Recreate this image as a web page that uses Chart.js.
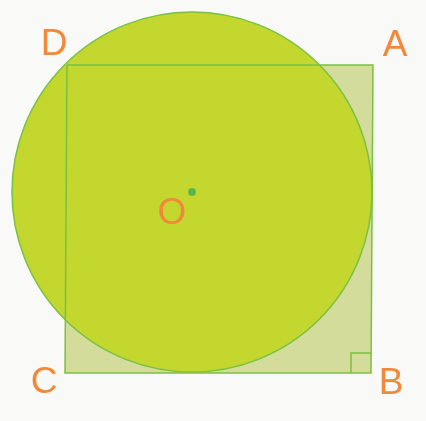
<!DOCTYPE html>
<html>
<head>
<meta charset="utf-8">
<script src="https://cdn.jsdelivr.net/npm/chart.js@4.4.1/dist/chart.umd.min.js"></script>
<style>
  html, body { margin: 0; padding: 0; background: #f9f9f7; }
  #wrap { width: 426px; height: 421px; }
</style>
</head>
<body>
<div id="wrap"><canvas id="myChart" width="426" height="421"></canvas></div>
<script>
// square vertices, in order D, A, B, C
const vertexNames = ["D", "A", "B", "C"];
const vertexX = [67, 373, 371, 65];
const vertexY = [65, 65, 373, 373];
// where each letter sits
const labelX = [54, 395, 391, 44];
const labelY = [45, 46, 384, 383];
// circle O
const centerX = 192;
const centerY = 192;
const radius = 180;
const centerLabel = "O";
const centerLabelX = 172;
const centerLabelY = 214;
const rightAngleSize = 20;

const lineGreen = "#79c143";
const orange = "#f08a3a";

// closed outline D-A-B-C-D
const squarePts = vertexX.map((x, i) => ({x: x, y: vertexY[i]}));
squarePts.push(squarePts[0]);

// little right-angle box at B
const bx = vertexX[2], by = vertexY[2];
const cornerPts = [
  {x: bx - rightAngleSize, y: by},
  {x: bx - rightAngleSize, y: by - rightAngleSize},
  {x: bx, y: by - rightAngleSize}
];

const labelPlugin = {
  id: "labels",
  afterDatasetsDraw(chart) {
    const ctx = chart.ctx;
    const sx = chart.scales.x, sy = chart.scales.y;
    ctx.save();
    ctx.fillStyle = orange;
    ctx.font = "37px 'Liberation Sans', Arial, sans-serif";
    ctx.textAlign = "center";
    ctx.textBaseline = "middle";
    vertexNames.forEach((n, i) => {
      ctx.fillText(n, sx.getPixelForValue(labelX[i]), sy.getPixelForValue(labelY[i]));
    });
    ctx.fillText(centerLabel, sx.getPixelForValue(centerLabelX), sy.getPixelForValue(centerLabelY));
    ctx.restore();
  }
};

new Chart("myChart", {
  type: "scatter",
  data: {
    datasets: [
      { // centre dot
        data: [{x: centerX, y: centerY}],
        pointRadius: 4,
        pointBackgroundColor: "#5db84a",
        pointBorderWidth: 0,
        order: 0
      },
      { // right angle mark
        data: cornerPts,
        showLine: true,
        borderColor: lineGreen,
        borderWidth: 1.5,
        pointRadius: 0,
        fill: false,
        order: 1
      },
      { // square outline
        data: squarePts,
        showLine: true,
        borderColor: lineGreen,
        borderWidth: 1.5,
        pointRadius: 0,
        fill: false,
        order: 2
      },
      { // circle
        data: [{x: centerX, y: centerY}],
        pointRadius: c => c.chart.scales.x.getPixelForValue(centerX + radius) - c.chart.scales.x.getPixelForValue(centerX),
        pointHoverRadius: c => c.chart.scales.x.getPixelForValue(centerX + radius) - c.chart.scales.x.getPixelForValue(centerX),
        pointBackgroundColor: "#c3d72e",
        pointBorderColor: lineGreen,
        pointBorderWidth: 1.5,
        order: 3
      },
      { // square fill
        data: squarePts,
        showLine: true,
        borderWidth: 0,
        borderColor: "rgba(0,0,0,0)",
        backgroundColor: "#d4dc9b",
        pointRadius: 0,
        fill: "shape",
        order: 4
      }
    ]
  },
  options: {
    responsive: false,
    animation: false,
    events: [],
    layout: {padding: 0, autoPadding: false},
    plugins: {legend: {display: false}, tooltip: {enabled: false}},
    scales: {
      x: {type: "linear", min: 0, max: 426, display: false},
      y: {type: "linear", min: 0, max: 421, reverse: true, display: false}
    }
  },
  plugins: [labelPlugin]
});
</script>
</body>
</html>
